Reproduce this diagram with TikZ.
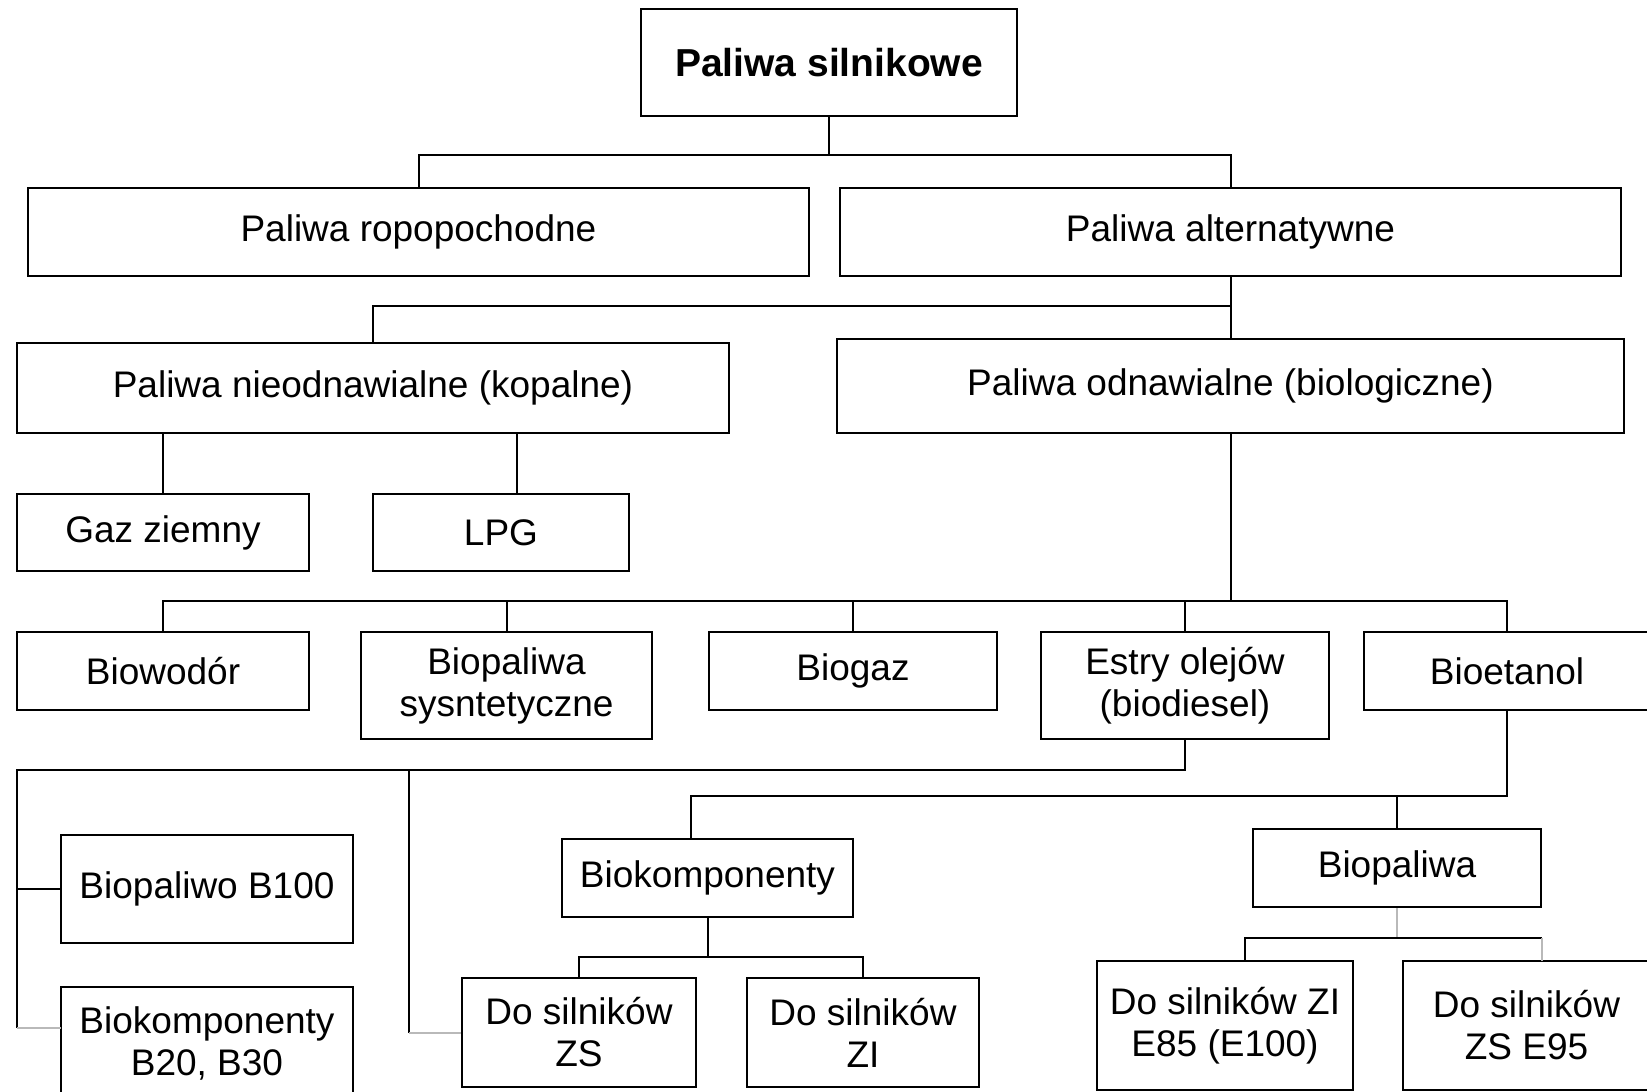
\documentclass[tikz,border=0pt]{standalone}
\usepackage{fontspec}
\setmainfont{Liberation Sans}
\tikzset{
  box/.style={draw,line width=2.2pt,align=center,inner sep=0pt,
    font=\fontsize{37}{42}\selectfont},
  faint/.style={draw=gray!55},
}
\begin{document}
\begin{tikzpicture}[x=1pt,y=-1pt,line width=2pt]
\useasboundingbox (0,0) rectangle (1647,1092);
\fill[white] (0,0) rectangle (1647,1092);
\begin{scope}[nodes={box}] % all boxes
\node [minimum width=376,minimum height=107,font=\fontsize{39}{42}\selectfont\bfseries] (root) at (829,62.5) {Paliwa silnikowe};
\node [minimum width=781,minimum height=88] (ropo) at (418.5,232) {Paliwa ropopochodne};
\node [minimum width=781,minimum height=88] (alt) at (1230.5,232) {Paliwa alternatywne};
\node [minimum width=712,minimum height=90] (nie) at (373,388) {Paliwa nieodnawialne (kopalne)};
\node [minimum width=787,minimum height=94] (odn) at (1230.5,386) {Paliwa odnawialne (biologiczne)};
\node [minimum width=292,minimum height=77] (gaz) at (163,532.5) {Gaz ziemny};
\node [minimum width=256,minimum height=77] (lpg) at (501,532.5) {LPG};
\node [minimum width=292,minimum height=78] (wod) at (163,671) {Biowodór};
\node [minimum width=291,minimum height=107] (syn) at (506.5,685.5) {Biopaliwa\\sysntetyczne};
\node [minimum width=288,minimum height=78] (bgaz) at (853,671) {Biogaz};
\node [minimum width=288,minimum height=107] (estry) at (1185,685.5) {Estry olejów\\(biodiesel)};
\node [minimum width=286,minimum height=78] (etan) at (1507,671) {Bioetanol};
\node [minimum width=292,minimum height=108] (b100) at (207,889) {Biopaliwo B100};
\node [minimum width=292,minimum height=113] (b20) at (207,1043.5) {Biokomponenty\\B20, B30};
\node [minimum width=291,minimum height=78] (bkomp) at (707.5,878) {Biokomponenty};
\node [minimum width=234,minimum height=109] (zs) at (579,1032.5) {Do silników\\ZS};
\node [minimum width=232,minimum height=109] (zi) at (863,1032.5) {Do silników\\ZI};
\node [minimum width=288,minimum height=78] (bpal) at (1397,868) {Biopaliwa};
\node [minimum width=256,minimum height=129] (e85) at (1225,1025.5) {Do silników ZI\\E85 (E100)};
\node [minimum width=247,minimum height=129] (e95) at (1526.5,1025.5) {Do silników\\ZS E95};
\end{scope}
\coordinate (bus1) at (829,155);
\coordinate (bus2) at (1230.5,306);
\coordinate (bus3) at (1230.5,601);
\coordinate (lc) at (17,770);
\coordinate (mc) at (409,770);
\coordinate (bus5) at (691,796);
\coordinate (bus6) at (707.5,957);
\coordinate (bus7) at (1397,938);
\coordinate (b20in) at (61,1028);
\coordinate (lpgin) at (517,494);
\coordinate (e85in) at (1245,961);
\coordinate (e95in) at (1542,961);
\draw (root.south) -- (bus1);
\draw (ropo.north) |- (bus1) -| (alt.north);
\draw (alt.south) -- (odn.north);
\draw (nie.north) |- (bus2);
\draw (gaz.north) -- (gaz.north |- nie.south);
\draw (lpgin) -- (lpgin |- nie.south);
\draw (odn.south) -- (bus3);
\draw (wod.north) |- (bus3) -| (etan.north);
\foreach \n in {syn,bgaz,estry}
  \draw (\n.north) -- (\n.north |- bus3);
\draw (estry.south) |- (lc) -- (lc |- b20in);
\draw[faint] (lc |- b20in) -- (b20in);
\draw (b100.west) -- (b100.west -| lc);
\draw (mc) -- (mc |- zs.west);
\draw[faint] (mc |- zs.west) -- (zs.west);
\draw (etan.south) |- (bus5) -- (bus5 |- bkomp.north);
\draw (bpal.north) -- (bpal.north |- bus5);
\draw (bkomp.south) -- (bus6);
\draw (zs.north) |- (bus6) -| (zi.north);
\draw[faint] (bpal.south) -- (bus7);
\draw (e85in) |- (bus7) -- (bus7 -| e95in);
\draw[faint] (bus7 -| e95in) -- (e95in);
\end{tikzpicture}
\end{document}
